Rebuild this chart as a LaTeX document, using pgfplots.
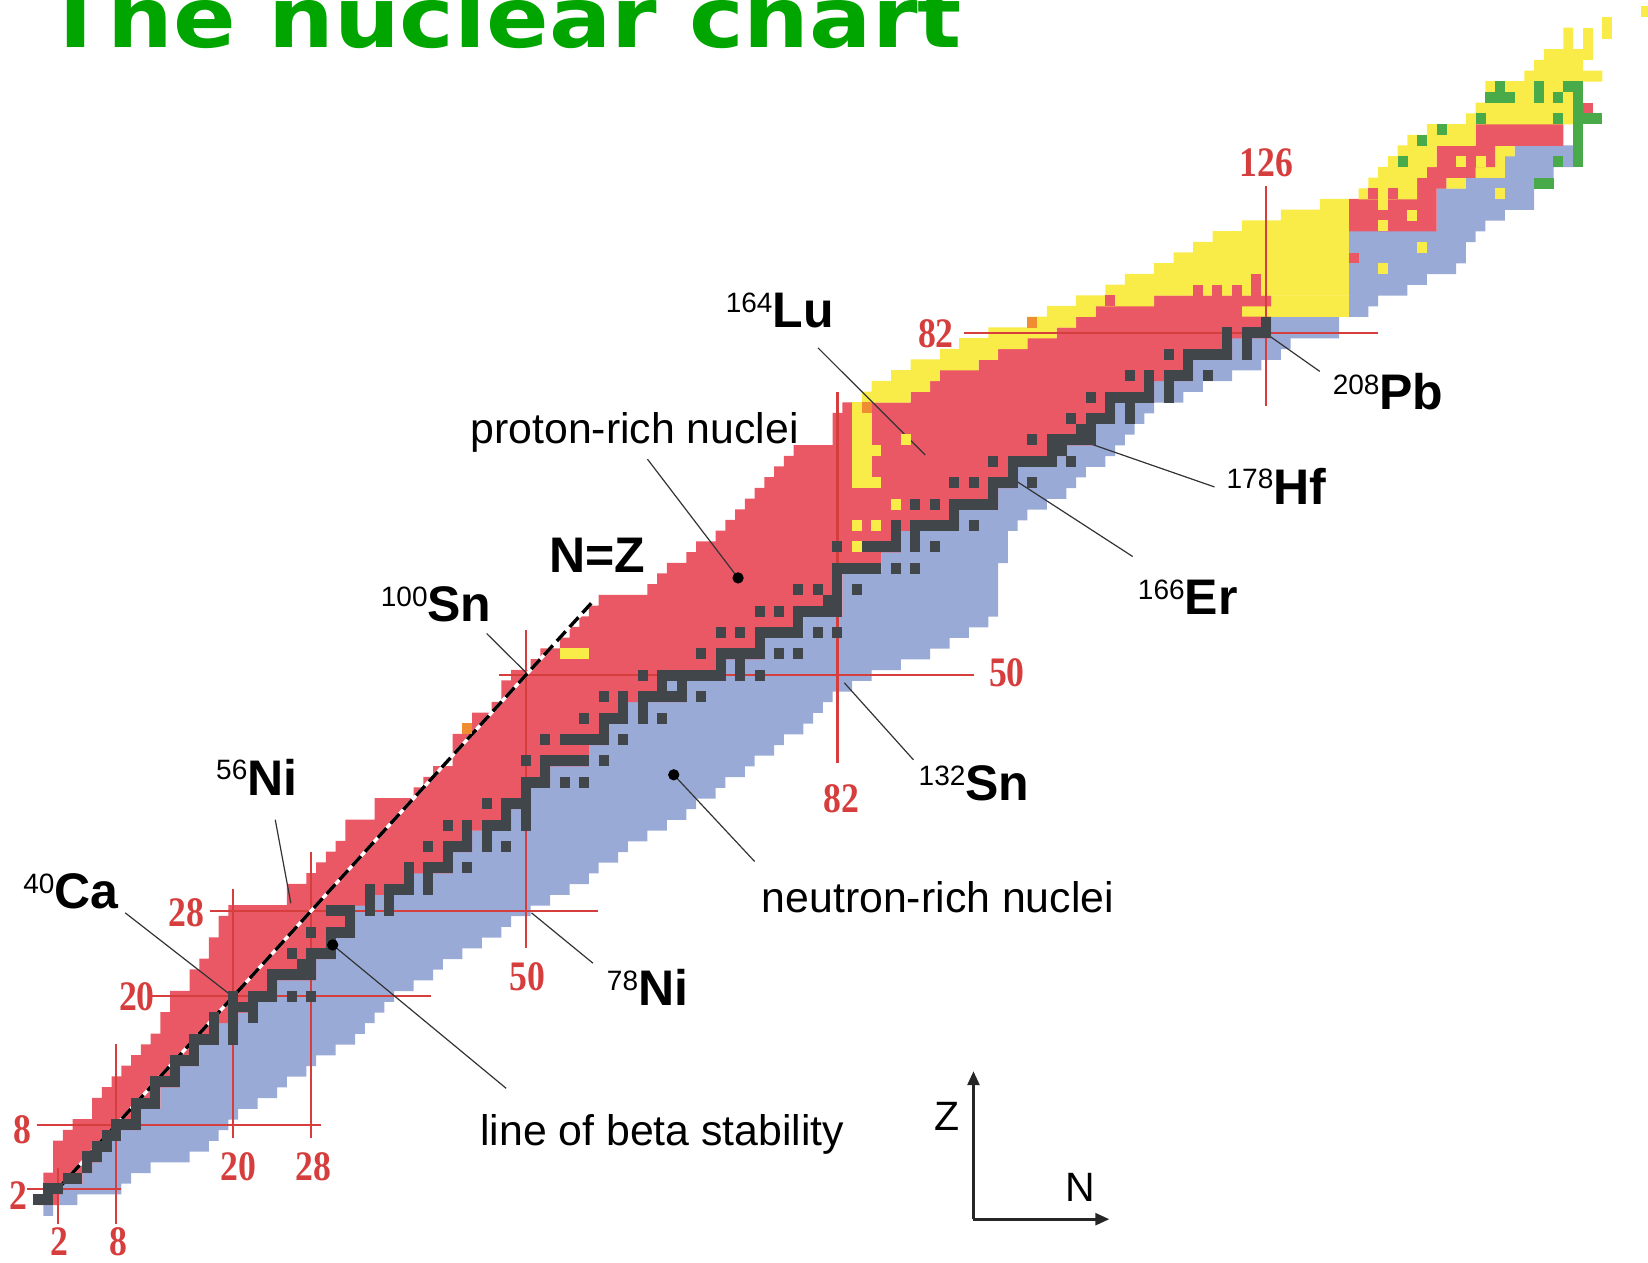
\documentclass[border=0pt]{standalone}
\usepackage{pgfplots}
\pgfplotsset{compat=1.18}
\usepackage{pgfplotstable}
\usepackage{graphicx}
\usepackage{fontspec}
\setmainfont{Liberation Sans}
\newfontfamily\magicfont{Liberation Serif}
\newfontfamily\titlefont{DejaVu Sans}
\usetikzlibrary{arrows.meta}

\definecolor{cred}{RGB}{234,88,102}
\definecolor{cblue}{RGB}{153,170,214}
\definecolor{cgrey}{RGB}{64,70,73}
\definecolor{cyellow}{RGB}{250,236,72}
\definecolor{cgreen}{RGB}{72,170,72}
\definecolor{corange}{RGB}{240,140,50}
\definecolor{cmagic}{RGB}{214,62,62}
\definecolor{ctitle}{RGB}{0,165,0}

% one nuclide cell (1 N wide, 1 Z high)
\pgfdeclareplotmark{cell}{%
  \pgfpathrectangle{\pgfqpoint{-2.5pt}{-2.72pt}}{\pgfqpoint{5pt}{5.44pt}}%
  \pgfusepathqfill}

% rows of the chart: for each Z the cells a..r-1 are alpha emitters,
% r..w-1 proton-rich, w..m-1 alpha emitters, m..b neutron-rich
\pgfplotstableread{
Z a r w m b
0 1 1 1 1 1
1 0 0 2 2 3
2 1 1 3 3 8
3 1 1 5 5 9
4 2 2 6 6 11
5 2 2 7 7 15
6 2 2 8 8 17
7 3 3 9 9 18
8 4 4 11 11 19
9 6 6 11 11 20
10 6 6 13 13 22
11 7 7 13 13 24
12 8 8 15 15 25
13 9 9 15 15 27
14 10 10 17 17 28
15 11 11 17 17 30
16 12 12 19 19 32
17 13 13 19 19 33
18 13 13 21 21 34
19 14 14 23 23 35
20 14 14 25 25 36
21 16 16 25 25 38
22 16 16 29 29 40
23 17 17 29 29 41
24 18 18 31 31 43
25 18 18 31 31 45
26 19 19 33 33 47
27 19 19 33 33 48
28 20 20 33 33 50
29 26 26 35 35 52
30 26 26 39 39 54
31 28 28 39 39 56
32 29 29 43 43 57
33 30 30 43 43 59
34 31 31 45 45 60
35 32 32 45 45 62
36 32 32 49 49 64
37 35 35 49 49 66
38 35 35 51 51 67
39 39 39 51 51 69
40 40 40 53 53 70
41 41 41 53 53 72
42 43 43 57 57 73
43 43 43 57 57 75
44 43 43 59 59 76
45 44 44 59 59 78
46 45 45 61 61 79
47 47 47 61 61 80
48 48 48 67 67 81
49 48 48 65 65 83
50 49 49 71 71 85
51 51 51 71 71 88
52 52 52 75 75 91
53 54 54 75 75 93
54 55 55 79 79 95
55 56 56 79 79 97
56 57 57 83 83 98
57 58 58 83 83 98
58 63 63 83 83 98
59 64 64 83 83 98
60 65 65 87 87 98
61 67 67 87 87 99
62 68 68 89 89 99
63 70 70 89 89 99
64 71 71 95 95 100
65 72 72 95 95 101
66 73 73 99 99 103
67 74 74 99 99 105
68 75 75 101 101 106
69 76 76 101 101 107
70 77 77 105 105 109
71 78 78 106 106 110
72 82 82 109 109 111
73 82 82 109 109 112
74 82 82 111 111 113
75 83 83 111 111 114
76 85 90 115 115 117
77 86 92 115 115 119
78 88 93 119 119 122
79 90 97 119 119 125
80 93 99 123 123 127
81 95 102 123 123 128
82 98 105 127 127 133
83 102 107 127 127 133
84 104 109 124 135 136
85 107 115 127 135 137
86 110 135 135 135 140
87 112 135 135 135 142
88 115 135 135 135 145
89 117 135 135 135 146
90 119 135 135 135 146
91 121 135 135 135 147
92 124 135 144 144 148
93 128 135 144 144 150
94 132 135 144 144 153
95 136 142 144 144 153
96 137 142 145 147 155
97 138 143 148 151 155
98 139 144 150 151 157
99 140 144 150 152 157
100 141 148 157 157 156
101 143 148 157 157 156
102 147 158 158 158 157
103 148 159 159 159 158
104 149 159 159 159 158
105 149 159 159 159 158
106 153 161 161 161 160
107 154 159 159 159 158
108 155 159 159 159 158
109 157 158 158 158 157
110 157 158 158 158 157
}\rows

\pgfplotsset{chartframe/.style={
  x=4.8715pt, y=5.35pt,
  xmin=-3.95, xmax=165.19, ymin=-4.83, ymax=113.11,
  hide axis, clip=false,
  at={(0,0)}, anchor=south west}}

\newcommand{\iso}[2]{{\fontsize{14}{14}\selectfont\raisebox{7.6pt}{#1}}{\bfseries\fontsize{25}{25}\selectfont #2}}
\newcommand{\magic}[1]{\scalebox{0.85}[1]{\magicfont\bfseries\fontsize{21}{21}\selectfont #1}}

\begin{document}
\begin{tikzpicture}
% coloured rows
\begin{axis}[chartframe, name=main, xbar stacked, bar width=1.03]
\addplot[draw=none, fill=none] table[x expr=\thisrow{a}-0.5, y=Z]{\rows};
\addplot[draw=none, fill=cyellow] table[x expr=\thisrow{r}-\thisrow{a}, y=Z]{\rows};
\addplot[draw=none, fill=cred] table[x expr=\thisrow{w}-\thisrow{r}, y=Z]{\rows};
\addplot[draw=none, fill=cyellow] table[x expr=\thisrow{m}-\thisrow{w}, y=Z]{\rows};
\addplot[draw=none, fill=cblue] table[x expr=\thisrow{b}-\thisrow{m}+1, y=Z]{\rows};
\end{axis}

\begin{axis}[chartframe]
% alpha emitters inside other regions
\addplot[only marks, mark=cell, color=cyellow] coordinates {
(54,52)(55,52)(56,52)(84,62)(84,64)(86,64)(88,66)
(84,68)(85,68)(86,68)(84,69)(85,69)(84,70)(85,70)(84,71)(85,71)(86,71)
(84,72)(85,72)(84,73)(85,73)(84,74)(85,74)(84,75)(89,72)
(138,92)(141,93)(138,94)(146,98)(148,98)(138,88)(142,90)(150,95)
(159,108)(159,109)(159,110)(161,110)(161,111)(165,112)};
% proton emitters
\addplot[only marks, mark=cell, color=corange] coordinates {(44,45)(85,75)(102,83)};
% beta-plus cells among the alpha emitters
\addplot[only marks, mark=cell, color=cred] coordinates {
(110,85)(119,86)(121,86)(123,86)(125,86)(125,87)(135,89)(137,95)(139,95)(159,103)};
% spontaneous fission
\addplot[only marks, mark=cell, color=cgreen] coordinates {
(140,98)(142,100)(144,101)(148,102)(149,104)(150,104)(151,104)(150,105)
(154,104)(154,105)(156,104)(158,98)(158,99)(158,100)(158,101)(158,102)
(158,103)(158,104)(158,105)(157,105)(159,102)(160,102)(156,102)(156,98)
(154,96)(155,96)};
% stable nuclei
\addplot[only marks, mark=cell, color=cgrey] coordinates {
(0,1)(1,1)(1,2)(2,2)(3,3)(4,3)(5,4)(5,5)(6,5)(6,6)(7,6)(7,7)(8,7)
(8,8)(9,8)(10,8)(10,9)(10,10)(11,10)(12,10)(12,11)(12,12)(13,12)(14,12)
(14,13)(14,14)(15,14)(16,14)(16,15)(16,16)(17,16)(18,16)(20,16)
(18,17)(20,17)(18,18)(20,18)(22,18)(20,19)(21,19)(22,19)
(20,20)(22,20)(23,20)(24,20)(26,20)(28,20)(24,21)
(24,22)(25,22)(26,22)(27,22)(28,22)(27,23)(28,23)
(26,24)(28,24)(29,24)(30,24)(30,25)(28,26)(30,26)(31,26)(32,26)(32,27)
(30,28)(31,28)(32,28)(34,28)(36,28)(34,29)(36,29)
(34,30)(36,30)(37,30)(38,30)(40,30)(38,31)(40,31)
(38,32)(40,32)(41,32)(42,32)(44,32)(42,33)
(40,34)(42,34)(43,34)(44,34)(46,34)(48,34)(44,35)(46,35)
(42,36)(44,36)(46,36)(47,36)(48,36)(50,36)(48,37)(50,37)
(46,38)(48,38)(49,38)(50,38)(50,39)(50,40)(51,40)(52,40)(54,40)(56,40)(52,41)
(50,42)(52,42)(53,42)(54,42)(55,42)(56,42)(58,42)
(52,44)(54,44)(55,44)(56,44)(57,44)(58,44)(60,44)(58,45)
(56,46)(58,46)(59,46)(60,46)(62,46)(64,46)(60,47)(62,47)
(58,48)(60,48)(62,48)(63,48)(64,48)(65,48)(66,48)(68,48)(64,49)(66,49)
(62,50)(64,50)(65,50)(66,50)(67,50)(68,50)(69,50)(70,50)(72,50)(74,50)
(70,51)(72,51)(68,52)(70,52)(71,52)(72,52)(73,52)(74,52)(76,52)(78,52)(74,53)
(70,54)(72,54)(74,54)(75,54)(76,54)(77,54)(78,54)(80,54)(82,54)(78,55)
(74,56)(76,56)(78,56)(79,56)(80,56)(81,56)(82,56)(81,57)(82,57)
(78,58)(80,58)(82,58)(84,58)(82,59)
(82,60)(83,60)(84,60)(85,60)(86,60)(88,60)(90,60)
(82,62)(85,62)(86,62)(87,62)(88,62)(90,62)(92,62)(88,63)(90,63)
(88,64)(90,64)(91,64)(92,64)(93,64)(94,64)(96,64)(94,65)
(90,66)(92,66)(94,66)(95,66)(96,66)(97,66)(98,66)(98,67)
(94,68)(96,68)(98,68)(99,68)(100,68)(102,68)(100,69)
(98,70)(100,70)(101,70)(102,70)(103,70)(104,70)(106,70)(104,71)(105,71)
(102,72)(104,72)(105,72)(106,72)(107,72)(108,72)(107,73)(108,73)
(106,74)(108,74)(109,74)(110,74)(112,74)(110,75)(112,75)
(108,76)(110,76)(111,76)(112,76)(113,76)(114,76)(116,76)(114,77)(116,77)
(112,78)(114,78)(116,78)(117,78)(118,78)(120,78)(118,79)
(116,80)(118,80)(119,80)(120,80)(121,80)(122,80)(124,80)(122,81)(124,81)
(122,82)(124,82)(125,82)(126,82)(126,83)};

% magic numbers
\pgfplotsset{magicline/.style={cmagic, line width=1.05pt, forget plot}}
\addplot[magicline] coordinates {(2,-1.3)(2,4)};
\addplot[magicline] coordinates {(8,-1.3)(8,15.5)};
\addplot[magicline] coordinates {(20,6.8)(20,30)};
\addplot[magicline] coordinates {(28,6.8)(28,33.5)};
\addplot[magicline] coordinates {(50,24.5)(50,54.2)};
\addplot[magicline] coordinates {(82,41.8)(82,76.5)};
\addplot[magicline] coordinates {(126,75.2)(126,95.7)};
\addplot[magicline] coordinates {(-1.2,2)(8.5,2)};
\addplot[magicline] coordinates {(-0.2,8)(29,8)};
\addplot[magicline] coordinates {(11.6,20)(40.3,20)};
\addplot[magicline] coordinates {(17.6,28)(57.4,28)};
\addplot[magicline] coordinates {(47.3,50)(96,50)};
\addplot[magicline] coordinates {(95,82)(137.5,82)};

% N = Z
\addplot[white, line width=1.7pt] coordinates {(2,2)(57,57)};
\addplot[black, line width=1.7pt, dash pattern=on 6.5pt off 3pt] coordinates {(2,2)(57,57)};

% leaders
\pgfplotsset{leader/.style={black!80, line width=0.6pt}}
\addplot[leader] coordinates {(80.0,80.6)(91.0,70.6)};
\addplot[leader] coordinates {(120.7,67.6)(106.8,72.0)};
\addplot[leader] coordinates {(112.3,61.1)(100.1,68.3)};
\addplot[leader] coordinates {(126.2,81.8)(131.5,78.4)};
\addplot[leader] coordinates {(82.7,49.3)(89.8,42.1)};
\addplot[leader] coordinates {(46.0,53.9)(50.1,50.2)};
\addplot[leader] coordinates {(24.3,36.5)(25.9,28.7)};
\addplot[leader] coordinates {(8.9,27.8)(19.9,20.0)};
\addplot[leader] coordinates {(56.9,23.1)(50.6,27.8)};
\addplot[leader] coordinates {(62.5,70.2)(71.8,59.1)};
\addplot[leader] coordinates {(73.5,32.6)(65.2,40.7)};
\addplot[leader] coordinates {(48.0,11.4)(30.2,24.8)};
\addplot[only marks, mark=*, mark size=2.6pt, black] coordinates {(71.8,59.1)(65.2,40.7)(30.2,24.8)};

% magic-number labels
\begin{scope}[every node/.style={text=cmagic, inner sep=0pt}]
\node at (axis cs:126,97.9) {\magic{126}};
\node at (axis cs:92.1,81.9) {\magic{82}};
\node at (axis cs:99.4,50.2) {\magic{50}};
\node at (axis cs:82.4,38.5) {\magic{82}};
\node at (axis cs:15.2,27.8) {\magic{28}};
\node at (axis cs:10.1,20) {\magic{20}};
\node at (axis cs:-1.6,7.5) {\magic{8}};
\node at (axis cs:-2.1,1.4) {\magic{2}};
\node at (axis cs:50.2,21.8) {\magic{50}};
\node at (axis cs:20.5,4.1) {\magic{20}};
\node at (axis cs:28.2,4.1) {\magic{28}};
\node at (axis cs:2.2,-2.9) {\magic{2}};
\node at (axis cs:8.2,-2.9) {\magic{8}};
\end{scope}

% nuclide labels
\node[anchor=base west, inner sep=0pt] at (axis cs:70.5,82.5) {\iso{164}{Lu}};
\node[anchor=base west, inner sep=0pt] at (axis cs:132.8,74.8) {\iso{208}{Pb}};
\node[anchor=base west, inner sep=0pt] at (axis cs:121.9,66.0) {\iso{178}{Hf}};
\node[anchor=base west, inner sep=0pt] at (axis cs:112.8,55.7) {\iso{166}{Er}};
\node[anchor=base west, inner sep=0pt] at (axis cs:90.3,38.3) {\iso{132}{Sn}};
\node[anchor=base west, inner sep=0pt] at (axis cs:35.1,55.0) {\iso{100}{Sn}};
\node[anchor=base west, inner sep=0pt] at (axis cs:18.2,38.8) {\iso{56}{Ni}};
\node[anchor=base west, inner sep=0pt] at (axis cs:-1.6,28.2) {\iso{40}{Ca}};
\node[anchor=base west, inner sep=0pt] at (axis cs:58.3,19.1) {\iso{78}{Ni}};
\node[anchor=base west, inner sep=0pt, font=\bfseries\fontsize{25}{25}\selectfont] at (axis cs:52.4,59.6) {N=Z};

\node[anchor=base west, inner sep=0pt, font=\fontsize{21.4}{22}\selectfont] at (axis cs:44.3,71.7) {proton-rich nuclei};
\node[anchor=base west, inner sep=0pt, font=\fontsize{21.4}{22}\selectfont] at (axis cs:74.2,27.8) {neutron-rich nuclei};
\node[anchor=base west, inner sep=0pt, font=\fontsize{21.4}{22}\selectfont] at (axis cs:45.3,6.05) {line of beta stability};

% N and Z directions
\draw[black!85, line width=1.3pt, -{Triangle[length=7pt, width=6pt]}] (axis cs:95.96,-0.83) -- (axis cs:95.96,13);
\draw[black!85, line width=1.3pt, -{Triangle[length=7pt, width=6pt]}] (axis cs:95.96,-0.83) -- (axis cs:109.9,-0.83);
\node[font=\fontsize{20.5}{21}\selectfont] at (axis cs:93.2,8.8) {Z};
\node[font=\fontsize{20.5}{21}\selectfont] at (axis cs:106.9,2.1) {N};

% title
\node[anchor=base west, inner sep=0pt, text=ctitle] at (axis cs:0.6,108.7)
  {\scalebox{1.1}[1]{\titlefont\bfseries\fontsize{42}{44}\selectfont The nuclear chart}};
\end{axis}
\pgfresetboundingbox
\path[use as bounding box] (main.south west) rectangle (main.north east);
\end{tikzpicture}
\end{document}
